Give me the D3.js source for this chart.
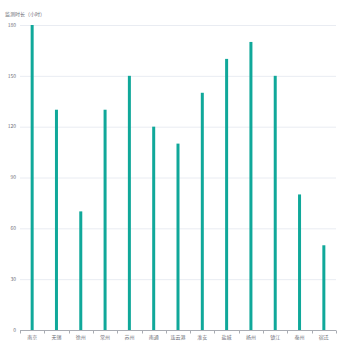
<!DOCTYPE html>
<html>
<head>
<meta charset="utf-8">
<script src="https://cdn.jsdelivr.net/npm/d3@7"></script>
<style>
  body { margin: 0; background: #fff; }
  text { font-family: "Noto Sans CJK SC", "Noto Sans", sans-serif; fill: #6e7079; }
</style>
</head>
<body>
<div id="chart"></div>
<script>
// data
var cities = ["南京", "无锡", "徐州", "常州", "苏州", "南通", "连云港", "淮安", "盐城", "扬州", "镇江", "泰州", "宿迁"];
var hours = [180, 130, 70, 130, 150, 120, 110, 140, 160, 170, 150, 80, 50];
var yTicks = [0, 30, 60, 90, 120, 150, 180];
var yTitle = "监测时长（小时）";

var width = 350, height = 350,
    margin = {top: 25, right: 14, bottom: 20, left: 20};

var svg = d3.select("#chart").append("svg")
  .attr("width", width)
  .attr("height", height);

var x = d3.scaleBand()
  .domain(cities)
  .range([margin.left, width - margin.right]);

var y = d3.scaleLinear()
  .domain([0, 180])
  .range([height - margin.bottom, margin.top]);

// grid lines
svg.append("g")
  .selectAll("line")
  .data(yTicks.slice(1))
  .enter().append("line")
  .attr("x1", margin.left)
  .attr("x2", width - margin.right)
  .attr("y1", function(d) { return y(d) + 0.5; })
  .attr("y2", function(d) { return y(d) + 0.5; })
  .attr("stroke", "#e9ecf2")
  .attr("stroke-width", 1);

// y labels
svg.append("g")
  .selectAll("text")
  .data(yTicks)
  .enter().append("text")
  .attr("x", margin.left - 4)
  .attr("y", function(d) { return y(d); })
  .attr("dy", "0.35em")
  .attr("text-anchor", "end")
  .style("font-size", "5px")
  .text(function(d) { return d; });

svg.append("text")
  .attr("x", 5)
  .attr("y", 16)
  .style("font-size", "5px")
  .text(yTitle);

// bars
var barW = 3;
svg.append("g")
  .selectAll("rect")
  .data(cities)
  .enter().append("rect")
  .attr("x", function(d) { return x(d) + x.bandwidth() / 2 - barW / 2; })
  .attr("width", barW)
  .attr("y", function(d, i) { return y(hours[i]); })
  .attr("height", function(d, i) { return y(0) - y(hours[i]); })
  .attr("fill", "#10a89a");

// x axis
var axisY = y(0) + 0.5;
svg.append("line")
  .attr("x1", margin.left)
  .attr("x2", width - margin.right)
  .attr("y1", axisY)
  .attr("y2", axisY)
  .attr("stroke", "#a9acb3")
  .attr("stroke-width", 1);

svg.append("g")
  .selectAll("line")
  .data(cities.concat(["end"]))
  .enter().append("line")
  .attr("x1", function(d, i) { return Math.round(margin.left + i * x.step()) + 0.5; })
  .attr("x2", function(d, i) { return Math.round(margin.left + i * x.step()) + 0.5; })
  .attr("y1", axisY)
  .attr("y2", axisY + 3)
  .attr("stroke", "#a9acb3");

svg.append("g")
  .selectAll("text")
  .data(cities)
  .enter().append("text")
  .attr("x", function(d) { return x(d) + x.bandwidth() / 2; })
  .attr("y", axisY + 8)
  .attr("text-anchor", "middle")
  .style("font-size", "5px")
  .text(function(d) { return d; });
</script>
</body>
</html>
